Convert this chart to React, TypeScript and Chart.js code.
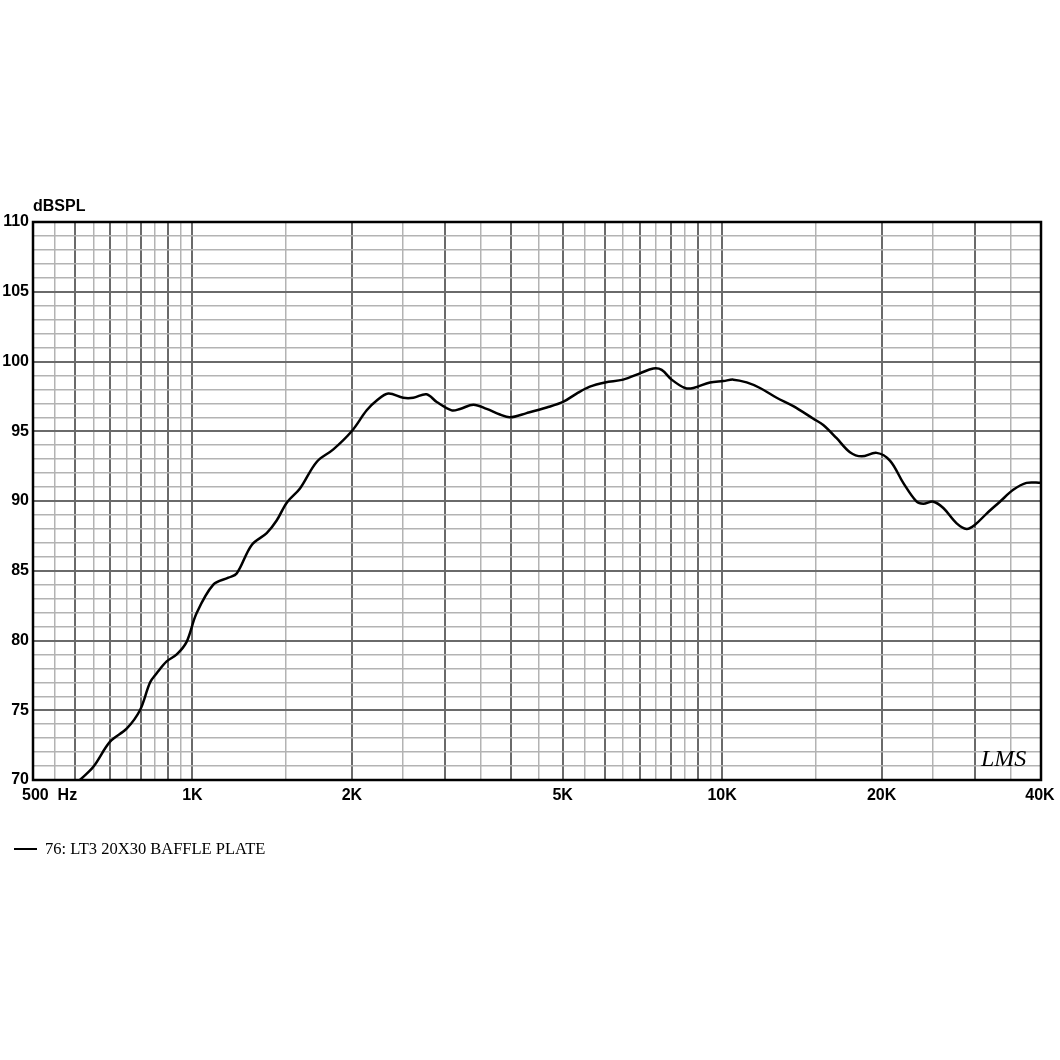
import React, { useEffect, useRef } from "react";
import { Chart, registerables } from "chart.js";

Chart.register(...registerables);

// ---- data ----
const FREQ_HZ = [
  613, 650, 699, 752, 796, 832, 856, 894, 934, 975, 1018, 1095, 1169, 1212, 1294, 1381, 1442, 1508,
  1596, 1716, 1845, 1998, 2133, 2228, 2342, 2500, 2612, 2767, 2892, 3086, 3200, 3392, 3593, 3806,
  3976, 4275, 4664, 5007, 5312, 5627, 6010, 6506, 6996, 7413, 7690, 8030, 8508, 8825, 9487, 10055,
  10501, 11127, 11790, 12676, 13627, 14865, 15522, 16454, 17433, 18339, 19574, 20742, 21980, 23300,
  23980, 25050, 26160, 27720, 28950, 30020, 31580, 33460, 35450, 37560, 40000,
];
const SPL_DB = [
  70.0, 70.95, 72.75, 73.7, 75.0, 77.0, 77.65, 78.5, 79.0, 79.9, 81.95, 84.0, 84.5, 84.8, 86.85, 87.7,
  88.6, 89.9, 90.9, 92.8, 93.7, 95.0, 96.5, 97.2, 97.7, 97.4, 97.4, 97.65, 97.1, 96.5, 96.6, 96.9,
  96.6, 96.2, 96.0, 96.3, 96.7, 97.1, 97.7, 98.2, 98.5, 98.7, 99.15, 99.5, 99.4, 98.7, 98.1, 98.1,
  98.5, 98.6, 98.7, 98.5, 98.1, 97.4, 96.8, 95.9, 95.45, 94.5, 93.5, 93.2, 93.45, 92.9, 91.3, 89.95,
  89.8, 89.95, 89.5, 88.4, 88.0, 88.3, 89.1, 89.95, 90.8, 91.3, 91.3,
];

const X_LABEL_VALUES = [500, 1000, 2000, 5000, 10000, 20000, 40000];
const X_LABEL_TEXT = ["500  Hz", "1K", "2K", "5K", "10K", "20K", "40K"];
const X_GRID_MAJOR = [
  500, 600, 700, 800, 900, 1000, 2000, 3000, 4000, 5000, 6000, 7000, 8000, 9000, 10000, 20000, 30000, 40000,
];
const X_GRID_MINOR = [
  550, 650, 750, 850, 950, 1500, 2500, 3500, 4500, 5500, 6500, 7500, 8500, 9500, 15000, 25000, 35000,
];
const Y_LABELED = [70, 75, 80, 85, 90, 95, 100, 105, 110];
const Y_TITLE = "dBSPL";
const LEGEND_TEXT = "76: LT3 20X30 BAFFLE PLATE";
const LOGO_TEXT = "LMS";

const SANS = "'Liberation Sans', Arial, sans-serif";
const SERIF = "'Liberation Serif', 'Times New Roman', serif";
const DARK = "#6a6a6a";
const LIGHT = "#b3b3b3";

const overlayPlugin = {
  id: "overlay",
  beforeDatasetsDraw(chart: any) {
    const { ctx, chartArea: a } = chart;
    ctx.save();
    ctx.strokeStyle = "#000";
    ctx.lineWidth = 2.5;
    ctx.strokeRect(a.left, a.top, a.right - a.left, a.bottom - a.top);
    ctx.restore();
  },
  afterDraw(chart: any) {
    const { ctx, chartArea: a } = chart;
    const xs = chart.scales.x;
    ctx.save();
    ctx.fillStyle = "#000";
    ctx.font = `bold 16px ${SANS}`;
    ctx.textBaseline = "middle";
    X_LABEL_VALUES.forEach((v, i) => {
      const px = xs.getPixelForValue(v);
      if (i === 0) {
        ctx.textAlign = "left";
        ctx.fillText(X_LABEL_TEXT[i], px - 11, a.bottom + 16);
      } else {
        ctx.textAlign = "center";
        ctx.fillText(X_LABEL_TEXT[i], px - (i === X_LABEL_VALUES.length - 1 ? 1 : 0), a.bottom + 16);
      }
    });
    // axis title
    ctx.textAlign = "left";
    ctx.fillText(Y_TITLE, a.left, a.top - 15);
    // legend
    ctx.strokeStyle = "#000";
    ctx.lineWidth = 2;
    ctx.beginPath();
    ctx.moveTo(14, 849);
    ctx.lineTo(37, 849);
    ctx.stroke();
    ctx.font = `16.5px ${SERIF}`;
    ctx.fillText(LEGEND_TEXT, 45, 850);
    // logo
    ctx.font = `italic 24px ${SERIF}`;
    ctx.textAlign = "left";
    ctx.fillText(LOGO_TEXT, 981, 760);
    ctx.restore();
  },
};

export default function App() {
  const ref = useRef<HTMLCanvasElement | null>(null);
  useEffect(() => {
    document.body.style.margin = "0";
    const canvas = ref.current;
    if (!canvas) return;
    const chart = new Chart(canvas, {
      type: "line",
      data: {
        datasets: [
          {
            label: LEGEND_TEXT,
            data: FREQ_HZ.map((f, i) => ({ x: f, y: SPL_DB[i] })),
            borderColor: "#000",
            borderWidth: 2.5,
            pointRadius: 0,
            tension: 0.35,
            fill: false,
          },
        ],
      },
      options: {
        animation: false,
        responsive: false,
        maintainAspectRatio: false,
        layout: { padding: { top: 222, right: 19, bottom: 0, left: 0 } },
        plugins: { legend: { display: false }, tooltip: { enabled: false }, title: { display: false } },
        scales: {
          x: {
            type: "logarithmic",
            min: 500,
            max: 40000,
            afterBuildTicks: (scale: any) => {
              const all = [...X_GRID_MAJOR, ...X_GRID_MINOR].sort((p, q) => p - q);
              scale.ticks = all.map((v) => ({ value: v }));
            },
            afterFit: (scale: any) => {
              scale.height = 280;
            },
            ticks: { display: false },
            grid: {
              drawTicks: false,
              color: (c: any) => (X_GRID_MINOR.includes(c.tick?.value) ? LIGHT : DARK),
              lineWidth: (c: any) => (X_GRID_MINOR.includes(c.tick?.value) ? 1.5 : 2),
            },
            border: { display: false },
          },
          y: {
            type: "linear",
            min: 70,
            max: 110,
            afterFit: (scale: any) => {
              scale.width = 33;
            },
            ticks: {
              stepSize: 1,
              autoSkip: false,
              padding: 4,
              color: "#000",
              font: { family: SANS, size: 16, weight: "bold" },
              callback: (v: any) => (Y_LABELED.includes(Number(v)) ? String(v) : ""),
            },
            grid: {
              drawTicks: false,
              color: (c: any) => (Y_LABELED.includes(c.tick?.value) ? DARK : LIGHT),
              lineWidth: (c: any) => (Y_LABELED.includes(c.tick?.value) ? 2 : 1.5),
            },
            border: { display: false },
          },
        },
      },
      plugins: [overlayPlugin],
    } as any);
    return () => chart.destroy();
  }, []);
  return (
    <div style={{ position: "fixed", left: 0, top: 0, width: 1060, height: 1060, background: "#fff" }}>
      <canvas ref={ref} width={1060} height={1060} style={{ width: 1060, height: 1060 }} />
    </div>
  );
}
